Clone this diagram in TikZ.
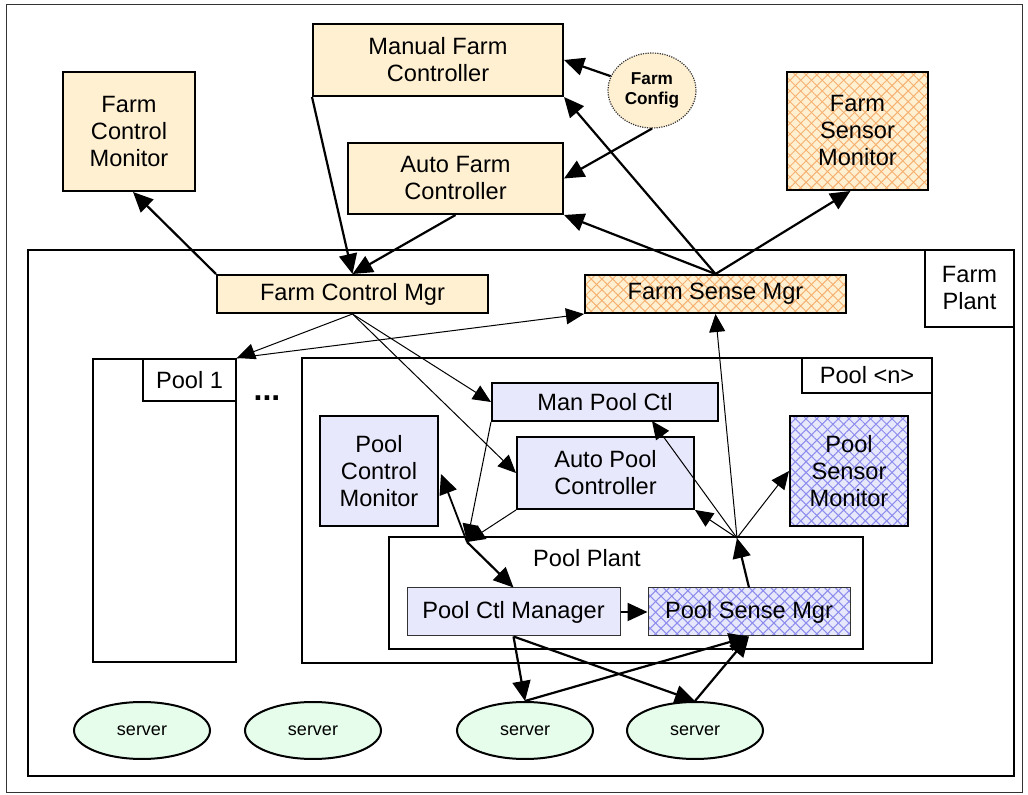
\documentclass[tikz,border=0pt]{standalone}
\usepackage{fontspec}
\setmainfont{Liberation Sans}
\usetikzlibrary{arrows.meta,patterns.meta,shapes.geometric,calc}

\definecolor{farmfill}{HTML}{FFF0D2}
\definecolor{farmhatch}{HTML}{F6B070}
\definecolor{poolfill}{HTML}{E8E8FC}
\definecolor{poolhatch}{HTML}{8C8CEE}
\definecolor{serverfill}{HTML}{E6FDEC}

\newcommand\mainfs{\fontsize{11.8}{13.5}\selectfont}
\newcommand\smallfs{\fontsize{9}{9.6}\selectfont}

\tikzset{
  box/.style={draw, line width=1pt, align=center, inner sep=0pt, font=\mainfs},
  farmbox/.style={box, fill=farmfill},
  poolbox/.style={box, fill=poolfill},
  thinbox/.style={box, line width=0.5pt, draw=black!80},
  % diagonal cross-hatching, with the border stroked again on top
  xhatch/.style={
    postaction={pattern={Lines[angle=45,distance=3.8pt,line width=0.5pt]}, pattern color=#1},
    postaction={pattern={Lines[angle=-45,distance=3.8pt,line width=0.5pt]}, pattern color=#1},
    postaction={draw}},
  container/.style={draw, line width=1pt, inner sep=0pt},
  tagbox/.style={draw, line width=1pt, fill=white, align=center, inner sep=0pt, font=\mainfs},
  server/.style={ellipse, draw, line width=1pt, fill=serverfill, inner sep=0pt,
    minimum width=68pt, minimum height=28.5pt, font=\smallfs},
  thk/.style={line width=1.1pt, -{Triangle[length=10pt,width=9pt]}},
  thn/.style={line width=0.5pt, -{Triangle[length=9pt,width=8pt]}},
}

\begin{document}
\begin{tikzpicture}[x=0.5pt,y=-0.5pt]
\useasboundingbox (0,0) rectangle (1028,795);
\draw[line width=0.5pt, black!80] (6,5) rectangle (1022,793);

% plants and pools
\node[container, minimum width=493pt, minimum height=263pt] (farmplant) at (521,513) {};
\node[tagbox, anchor=north east, minimum width=44.5pt, minimum height=38.5pt]
  (farmplanttag) at (farmplant.north east) {Farm\\Plant};
\node[container, minimum width=71.5pt, minimum height=151.5pt] (pool1) at (164.5,510.5) {};
\node[tagbox, anchor=north east, minimum width=46.5pt, minimum height=21pt]
  (pool1tag) at (pool1.north east) {Pool 1};
\node[font=\fontsize{16}{16}\selectfont\bfseries] (dots) at (267,398) {...};
\node[container, minimum width=315pt, minimum height=152.5pt] (pooln) at (617,510.5) {};
\node[tagbox, anchor=north east, minimum width=65pt, minimum height=17.5pt]
  (pookntag) at (pooln.north east) {Pool <n>};
\node[container, minimum width=237pt, minimum height=56pt] (poolplant) at (626,593) {};
\node[font=\mainfs] (poolplanttag) at (587,558) {Pool Plant};

% farm level
\node[farmbox, minimum width=66pt, minimum height=59.5pt] (fcm) at (129,131.5) {Farm\\Control\\Monitor};
\node[farmbox, minimum width=125pt, minimum height=36pt] (mfc) at (438,60) {Manual Farm\\Controller};
\node[farmbox, minimum width=107.5pt, minimum height=35.5pt] (afc) at (455.5,178.5) {Auto Farm\\Controller};
\node[ellipse, draw=black!80, fill=farmfill, line width=0.6pt, dash pattern=on 0.6pt off 0.6pt,
  minimum width=44pt, minimum height=37.5pt, inner sep=0pt, align=center,
  font=\fontsize{8.6}{9.6}\selectfont\bfseries] (cfg) at (652,90.5) {Farm\\Config};
\node[farmbox, xhatch=farmhatch, minimum width=70.5pt, minimum height=59pt] (fsm) at (857.5,131) {Farm\\Sensor\\Monitor};
\node[farmbox, minimum width=135.5pt, minimum height=19pt] (fctl) at (352.5,294) {Farm Control Mgr};
\node[farmbox, xhatch=farmhatch, minimum width=130.5pt, minimum height=19pt] (fsns) at (715.5,294) {Farm Sense Mgr};

% pool level
\node[poolbox, minimum width=113pt, minimum height=19pt] (mpc) at (605,402) {Man Pool Ctl};
\node[poolbox, minimum width=59pt, minimum height=55pt] (pcm) at (379,471) {Pool\\Control\\Monitor};
\node[poolbox, minimum width=88.5pt, minimum height=36pt] (apc) at (605.5,473) {Auto Pool\\Controller};
\node[poolbox, xhatch=poolhatch, minimum width=59pt, minimum height=55pt] (psm) at (849,471) {Pool\\Sensor\\Monitor};
\node[thinbox, fill=poolfill, minimum width=106.5pt, minimum height=24pt] (pcmg) at (513.5,612) {Pool Ctl Manager};
\node[thinbox, fill=poolfill, xhatch=poolhatch, minimum width=101pt, minimum height=24pt] (psmg) at (749,612) {Pool Sense Mgr};

% servers
\node[server] (s1) at (142,730.5) {server};
\node[server] (s2) at (313,730.5) {server};
\node[server] (s3) at (525,730.5) {server};
\node[server] (s4) at (695,730.5) {server};

% junction points on the pool plant
\coordinate (jL) at (467,542);
\coordinate (jR) at (737,538);
\coordinate (mpcR) at (652,421);
\coordinate (pcmR) at (441,474);

% farm level connectors
\draw[thk] (fctl.north west) -- ($(fcm.south)+(4,0)$);
\draw[thk] (mfc.south west) -- (fctl.north);
\draw[thk] (afc.south) -- (fctl.north);
\draw[thk] (cfg) -- (mfc.east);
\draw[thk] (cfg.south) -- (afc.east);
\draw[thk] (fsns.north) -- (mfc.south east);
\draw[thk] (fsns.north) -- (afc.south east);
\draw[thk] (fsns.north) -- ($(fsm.south)+(-7,0)$);

% farm to pool connectors
\draw[thn] (fctl.south) -- (pool1.north east);
\draw[thn] (pool1.north east) -- (fsns.south west);
\draw[thn] (fctl.south) -- (mpc.west);
\draw[thn] (fctl.south) -- (apc.west);
\draw[thn] (jR) -- (fsns.south);

% pool level connectors
\draw[thn] (jR) -- (mpcR);
\draw[thn] (jR) -- (apc.south east);
\draw[thn] (jR) -- (psm.west);
\draw[thk] (psmg.north) -- (jR);
\draw[thn] (mpc.south west) -- (jL);
\draw[thn] (apc.south west) -- (jL);
\draw[thk, line width=0.9pt] (jL) -- (pcmR);
\draw[thk] (jL) -- (pcmg.north);
\draw[thk] (pcmg.east) -- (psmg.west);

% server connectors
\draw[thk] (pcmg.south) -- (s3.north);
\draw[thk] (pcmg.south) -- (s4.north);
\draw[thk] (s3.north) -- (psmg.south);
\draw[thk] (s4.north) -- (psmg.south);
\end{tikzpicture}
\end{document}
